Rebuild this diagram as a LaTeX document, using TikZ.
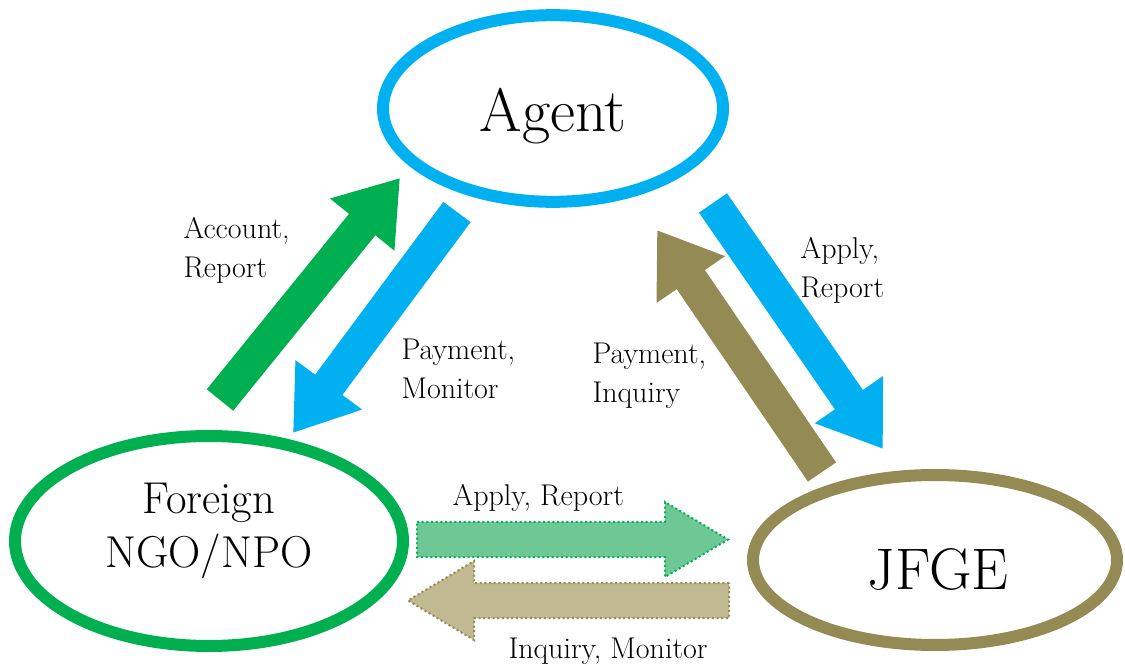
\documentclass[tikz,border=0pt]{standalone}
\usetikzlibrary{shapes.geometric,arrows.meta,calc}

\definecolor{agentblue}{RGB}{0,176,240}
\definecolor{ngogreen}{RGB}{0,176,80}
\definecolor{jfgeolive}{RGB}{148,138,84}
\definecolor{greenfill}{RGB}{110,200,150}
\definecolor{olivefill}{RGB}{192,185,145}

\tikzset{every picture/.style={line width=0.75pt}}

\begin{document}
\begin{tikzpicture}[x=0.75pt,y=0.75pt,yscale=-1,xscale=1,
    party/.style={ellipse, draw, line width=9pt, inner sep=0pt},
    bigtext/.style={anchor=north, inner sep=0pt, align=center},
    note/.style={anchor=north west, inner sep=0pt, align=left, font=\fontsize{22.5}{29}\selectfont},
    flow/.style={line width=25.5pt, -{Triangle[width=59pt,length=45pt]}},
    dotflow/.style={line width=1.5pt, dotted}]
    \useasboundingbox (0,0) rectangle (1125,666);
    % Parties
    \node[party, draw=agentblue, minimum width=255pt, minimum height=140pt] (agent) at (553,108.5) {};
    \node[party, draw=ngogreen, minimum width=291pt, minimum height=157.5pt] (ngo) at (209,541) {};
    \node[party, draw=jfgeolive, minimum width=273pt, minimum height=127.5pt] (jfge) at (935,560) {};
    % Party names
    \node[bigtext, font=\fontsize{46}{52}\selectfont] (agenttxt) at (553,88) {Agent};
    \node[bigtext, font=\fontsize{33.5}{40.5}\selectfont] (ngotxt) at (209,483) {Foreign\\NGO/NPO};
    \node[bigtext, font=\fontsize{44}{50}\selectfont] (jfgetxt) at (938,548) {JFGE};
    % Arrow ends
    \coordinate (acc-s) at (220,400);   \coordinate (acc-e) at (400,178);
    \coordinate (pay-s) at (457,212);   \coordinate (pay-e) at (293,433);
    \coordinate (app-s) at (713,203);   \coordinate (app-e) at (883,449);
    \coordinate (inq-s) at (822,472);   \coordinate (inq-e) at (657,230);
    \coordinate (rep-s) at (417,539.5); \coordinate (rep-e) at (728,539.5);
    \coordinate (mon-s) at (729,600.5); \coordinate (mon-e) at (408,600.5);
    % Connection
    \draw[flow, ngogreen] (acc-s) -- (acc-e);
    \draw[flow, agentblue] (pay-s) -- (pay-e);
    \draw[flow, agentblue] (app-s) -- (app-e);
    \draw[flow, jfgeolive] (inq-s) -- (inq-e);
    % Connection
    \filldraw[dotflow, fill=greenfill, draw=ngogreen] ($(rep-s)+(0,-17.5)$) -- ($(rep-e)+(-63,-17.5)$) -- ($(rep-e)+(-63,-37.5)$) -- (rep-e) -- ($(rep-e)+(-63,37.5)$) -- ($(rep-e)+(-63,17.5)$) -- ($(rep-s)+(0,17.5)$) -- cycle;
    \filldraw[dotflow, fill=olivefill, draw=jfgeolive] ($(mon-s)+(0,-17.5)$) -- ($(mon-e)+(66,-17.5)$) -- ($(mon-e)+(66,-39.5)$) -- (mon-e) -- ($(mon-e)+(66,39.5)$) -- ($(mon-e)+(66,17.5)$) -- ($(mon-s)+(0,17.5)$) -- cycle;
    % Labels
    \node[note] (acclbl) at (183,217) {Account,\\Report};
    \node[note] (paylbl) at (401,339) {Payment,\\Monitor};
    \node[note] (inqlbl) at (592,343) {Payment,\\Inquiry};
    \node[note] (applbl) at (800,237) {Apply,\\Report};
    \node[note] (replbl) at (452,484) {Apply, Report};
    \node[note] (monlbl) at (508,638) {Inquiry, Monitor};
\end{tikzpicture}
\end{document}
